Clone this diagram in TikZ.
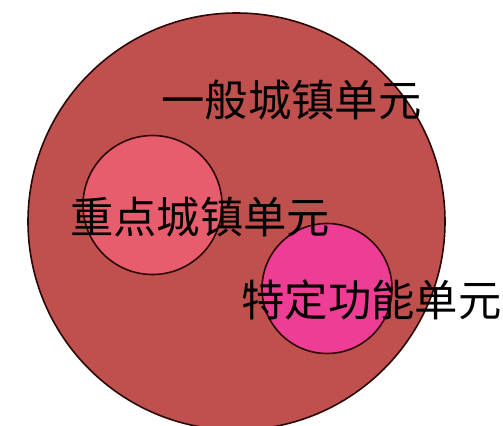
\documentclass[tikz,border=0pt]{standalone}
\usepackage{fontspec}
\setmainfont{Noto Sans CJK SC}
\begin{document}
\begin{tikzpicture}[x=0.75pt,y=-0.75pt,
  ring/.style={circle,draw=ringline,line width=1.2pt,inner sep=0pt},
  lbl/.style={inner sep=0pt,text=black,font=\fontsize{32.5pt}{32.5pt}\selectfont}]
\definecolor{ringline}{HTML}{2A0808}
\definecolor{outerfill}{HTML}{C0504D}
\definecolor{keyfill}{HTML}{E85D6D}
\definecolor{specfill}{HTML}{EE3D95}
\useasboundingbox (0,0) rectangle (503,425);
\fill[white] (0,0) rectangle (503,425);
\node[ring,fill=outerfill,minimum size=312.75pt] (outer) at (236.5,221.5) {};
\node[ring,fill=keyfill,minimum size=104.25pt] (key) at (152.5,205) {};
\node[ring,fill=specfill,minimum size=97.5pt] (spec) at (327,288.5) {};
\node[lbl] (t1) at (291.5,100) {一般城镇单元};
\node[lbl] (t2) at (200,217) {重点城镇单元};
\node[lbl] (t3) at (371.5,300) {特定功能单元};
\end{tikzpicture}
\end{document}
